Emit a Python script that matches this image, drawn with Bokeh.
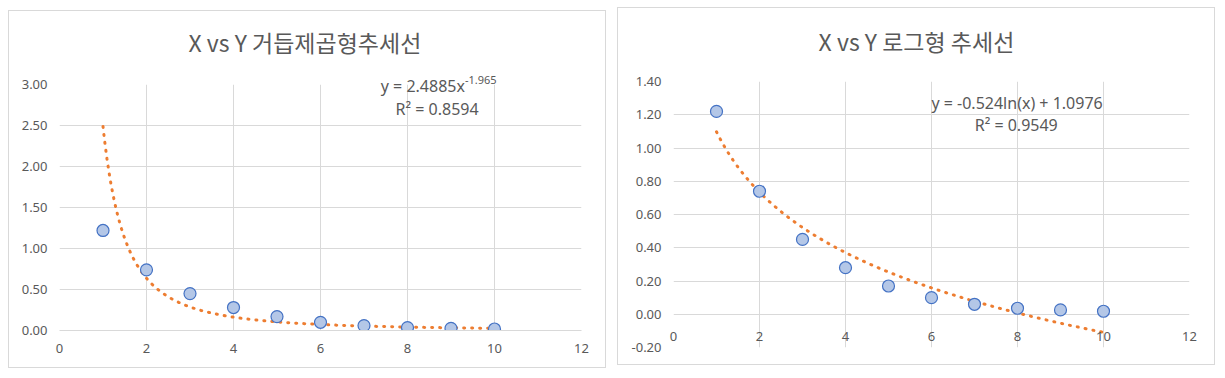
import numpy as np
from bokeh.plotting import figure
from bokeh.models import FixedTicker, NumeralTickFormatter, Range1d
from bokeh.core.properties import value
from bokeh.embed import file_html
from bokeh.resources import INLINE

# ---- data ----
x_vals = [1, 2, 3, 4, 5, 6, 7, 8, 9, 10]
y_vals = [1.22, 0.74, 0.45, 0.28, 0.17, 0.10, 0.06, 0.036, 0.026, 0.018]

power_a, power_b = 2.4885, -1.965        # y = a * x^b
log_a, log_b = -0.524, 1.0976            # y = a*ln(x) + b

left_title = "X vs Y  거듭제곱형추세선"
right_title = "X vs Y 로그형 추세선"
left_eq_main = "y = 2.4885x"
left_eq_sup = "-1.965"
left_r2 = "R² = 0.8594"
right_eq = "y = -0.524ln(x) + 1.0976"
right_r2 = "R² = 0.9549"

x_ticks = [0, 2, 4, 6, 8, 10, 12]
left_y_ticks = [0, 0.5, 1.0, 1.5, 2.0, 2.5, 3.0]
right_y_ticks = [-0.2, 0, 0.2, 0.4, 0.6, 0.8, 1.0, 1.2, 1.4]

GRID = "#D9D9D9"
TXT = "#595959"
ORANGE = "#ED7D31"
FILL = "#B4C7E7"
EDGE = "#4472C4"
TICK_FONT = "Noto Sans"
TITLE_FONT = "Noto Sans CJK KR"

trend_x = np.linspace(1, 10, 400)


def add_text(p, x, y, text, size, align="center", font=TICK_FONT):
    p.text(x=[x], y=[y], text=[text], text_align=align, text_baseline="middle",
           text_font=value(font), text_font_size=value(f"{size}px"),
           text_color=TXT, level="overlay")


def base_fig(y_lo, y_hi, y_ticks, mb_left, mb_right, mb_top, mb_bottom, left, top):
    p = figure(width=598, height=358, output_backend="svg", toolbar_location=None,
               x_range=Range1d(0, 12), y_range=Range1d(y_lo, y_hi),
               min_border_left=mb_left, min_border_right=mb_right,
               min_border_top=mb_top, min_border_bottom=mb_bottom)
    p.styles = {"border": "1px solid #D9D9D9", "position": "absolute",
                "left": f"{left}px", "top": f"{top}px"}
    p.outline_line_color = None
    p.background_fill_color = "white"
    p.border_fill_color = "white"
    p.xaxis.ticker = FixedTicker(ticks=x_ticks)
    p.yaxis.ticker = FixedTicker(ticks=y_ticks)
    p.yaxis.formatter = NumeralTickFormatter(format="0.00")
    for ax in (p.xaxis, p.yaxis):
        ax.major_tick_line_color = None
        ax.minor_tick_line_color = None
        ax.major_tick_out = 0
        ax.major_tick_in = 0
        ax.major_label_text_font = TICK_FONT
        ax.major_label_text_font_size = "13px"
        ax.major_label_text_color = TXT
        ax.major_label_standoff = 12
    p.xaxis.major_label_standoff = 13
    p.yaxis.axis_line_color = None
    p.xaxis.axis_line_color = GRID
    p.xgrid.grid_line_color = GRID
    p.ygrid.grid_line_color = GRID
    p.xgrid.ticker = FixedTicker(ticks=x_ticks)
    p.ygrid.ticker = FixedTicker(ticks=y_ticks)
    return p


# ---- left: power trendline ----
p1 = base_fig(0, 3.0, left_y_ticks, 50, 26, 73, 39, 8, 10)
p1.line(trend_x, power_a * trend_x ** power_b, line_color=ORANGE, line_width=3,
        line_dash="1 7", line_cap="round")
p1.scatter(x_vals, y_vals, size=12, fill_color=FILL, line_color=EDGE, line_width=1.2)
add_text(p1, 5.7, 3.52, left_title, 23, font=TITLE_FONT)
add_text(p1, 9.32, 2.98, left_eq_main, 16, "right")
add_text(p1, 9.32, 3.05, left_eq_sup, 11, "left")
add_text(p1, 8.68, 2.70, left_r2, 16)

# ---- right: log trendline ----
p2 = base_fig(-0.2, 1.4, right_y_ticks, 55, 27, 73, 19, 617, 7)
p2.xaxis.axis_line_color = None
p2.xaxis.major_label_standoff = -16
p2.line(trend_x, log_a * np.log(trend_x) + log_b, line_color=ORANGE, line_width=3,
        line_dash="1 7", line_cap="round")
p2.scatter(x_vals, y_vals, size=12, fill_color=FILL, line_color=EDGE, line_width=1.2)
add_text(p2, 5.65, 1.645, right_title, 23, font=TITLE_FONT)
add_text(p2, 7.99, 1.27, right_eq, 16)
add_text(p2, 7.97, 1.138, right_r2, 16)

open("out.html", "w").write(file_html([p1, p2], INLINE))
